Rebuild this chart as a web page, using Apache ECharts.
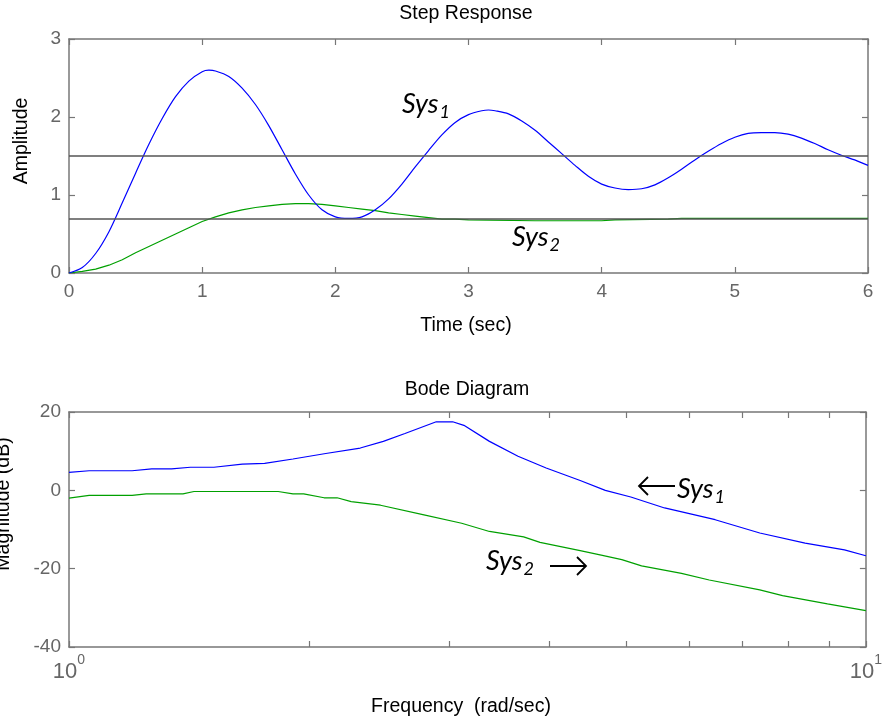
<!DOCTYPE html>
<html>
<head>
<meta charset="utf-8">
<script src="https://cdn.jsdelivr.net/npm/echarts@6/dist/echarts.min.js"></script>
<style>
html,body{margin:0;padding:0;background:#fff;}
#chart{width:885px;height:727px;}
</style>
</head>
<body>
<div id="chart"></div>
<script>
// ---- Step response data ----
const sys1Time = [0,0.1,0.2,0.3,0.4,0.5,0.6,0.7,0.8,0.9,1.0,1.05,1.1,1.2,1.3,1.4,1.5,1.6,1.7,1.8,1.9,2.0,2.1,2.2,2.3,2.4,2.5,2.6,2.7,2.8,2.9,3.0,3.1,3.15,3.2,3.3,3.4,3.5,3.6,3.7,3.8,3.9,4.0,4.1,4.2,4.3,4.4,4.5,4.6,4.7,4.8,4.9,5.0,5.1,5.2,5.3,5.4,5.5,5.6,5.7,5.8,5.9,6.0];
const sys1Amp  = [0,0.07,0.25,0.53,0.9,1.28,1.65,1.98,2.26,2.46,2.58,2.6,2.59,2.52,2.37,2.16,1.89,1.58,1.27,1.0,0.81,0.72,0.7,0.72,0.81,0.95,1.14,1.36,1.57,1.77,1.93,2.03,2.08,2.09,2.08,2.04,1.95,1.83,1.68,1.53,1.38,1.24,1.14,1.09,1.07,1.08,1.13,1.22,1.33,1.45,1.56,1.66,1.74,1.79,1.8,1.8,1.78,1.73,1.66,1.58,1.51,1.45,1.38];
const sys2Time = [0,0.1,0.2,0.3,0.4,0.5,0.6,0.7,0.8,0.9,1.0,1.1,1.2,1.3,1.4,1.5,1.6,1.7,1.8,1.9,2.0,2.1,2.2,2.3,2.4,2.5,2.6,2.7,2.8,2.9,3.0,3.5,4.0,4.1,4.5,4.6,5.0,6.0];
const sys2Amp  = [0,0.02,0.05,0.1,0.17,0.26,0.34,0.42,0.5,0.58,0.66,0.72,0.77,0.81,0.84,0.86,0.88,0.89,0.89,0.88,0.86,0.84,0.82,0.8,0.77,0.75,0.73,0.71,0.69,0.69,0.68,0.67,0.67,0.68,0.69,0.7,0.7,0.7];
const refLevels = [1.5, 0.69];

// ---- Bode magnitude data ----
const sys1Freq = [1.0,1.06,1.2,1.27,1.345,1.42,1.52,1.65,1.76,1.91,2.1,2.32,2.48,2.64,2.89,3.03,3.13,3.37,3.66,3.97,4.38,4.71,5.07,5.59,6.47,7.36,8.39,9.4,10];
const sys1Mag  = [4.6,5.0,5.0,5.5,5.5,5.9,5.9,6.7,6.9,8.0,9.4,10.8,12.5,14.5,17.5,17.5,16.6,12.5,8.7,5.7,2.5,0,-1.7,-4.5,-7.5,-10.9,-13.5,-15.2,-16.7];
const sys2Freq = [1,1.06,1.2,1.25,1.39,1.435,1.83,1.91,1.97,2.09,2.17,2.26,2.46,2.78,3.11,3.37,3.72,3.9,4.38,4.67,4.94,5.23,5.87,6.36,7.36,7.86,8.95,10];
const sys2Mag  = [-2.0,-1.3,-1.3,-0.9,-0.9,-0.3,-0.3,-0.9,-0.9,-1.9,-1.9,-2.9,-3.8,-6.2,-8.4,-10.5,-11.9,-13.3,-15.4,-16.6,-17.7,-19.3,-21.2,-22.9,-25.4,-26.9,-29.0,-30.7];
const freqTicks = [1,2,3,4,5,6,7,8,9,10];
const freqLabels = [1,10];

const zip = (a,b) => a.map((v,i)=>[v,b[i]]);

const FONT = 'Liberation Sans';
const axisGray = '#777';
const labelGray = '#666';
const lineStyle = {color: axisGray, width: 1.5};
const tick = {show:true, inside:true, length:6, lineStyle:{color: axisGray, width:1.2}};

function valueX(gi, pos, min, max, interval, showLabel){
  return {type:'value', gridIndex:gi, position:pos, min, max, interval,
    axisLine:{show:true, onZero:false, lineStyle},
    axisTick:tick, splitLine:{show:false},
    axisLabel:{show:showLabel, margin:9, fontFamily:FONT, fontSize:19, color:labelGray}};
}
function valueY(gi, pos, min, max, interval, showLabel){
  return {type:'value', gridIndex:gi, position:pos, min, max, interval,
    axisLine:{show:true, onZero:false, lineStyle},
    axisTick:tick, splitLine:{show:false},
    axisLabel:{show:showLabel, margin:8, fontFamily:FONT, fontSize:19, color:labelGray}};
}
function logX(gi, pos, showLabel){
  return {type:'log', logBase:10, gridIndex:gi, position:pos, min:1, max:10,
    axisLine:{show:true, onZero:false, lineStyle},
    axisTick:Object.assign({}, tick, {customValues: freqTicks}),
    splitLine:{show:false},
    axisLabel:{show:showLabel, margin:6, customValues: freqLabels,
      formatter: v => '{b|10}{s|' + Math.round(Math.log10(v)) + '}',
      rich:{
        b:{fontFamily:FONT, fontSize:22, color:labelGray, lineHeight:24, padding:[14,0,0,0]},
        s:{fontFamily:FONT, fontSize:14, color:labelGray, lineHeight:14, verticalAlign:'top'}
      }}};
}

const sysRich = {
  a:{fontFamily:'Lato', fontStyle:'italic', fontSize:27, lineHeight:30, color:'#000', verticalAlign:'top'},
  b:{fontFamily:'Lato', fontStyle:'italic', fontSize:18, lineHeight:18, color:'#000', verticalAlign:'top', padding:[12,0,0,1]}
};
function sysText(x, y, n){
  return {type:'text', left:x, top:y, style:{text:'{a|Sys}{b|'+n+'}', rich:sysRich}};
}
function plainText(x, y, t, rot){
  return {type:'text', x, y, rotation: rot||0,
    style:{text:t, fontFamily:FONT, fontSize:19.5, fill:'#000', align:'center', verticalAlign:'middle'}};
}

const chart = echarts.init(document.getElementById('chart'), null, {renderer:'canvas'});
chart.setOption({
  animation:false,
  backgroundColor:'#fff',
  grid:[
    {left:69, right:17, top:39, height:234},
    {left:69, right:17, top:412, height:235}
  ],
  xAxis:[
    valueX(0,'bottom',0,6,1,true),
    valueX(0,'top',0,6,1,false),
    logX(1,'bottom',true),
    logX(1,'top',false)
  ],
  yAxis:[
    valueY(0,'left',0,3,1,true),
    valueY(0,'right',0,3,1,false),
    valueY(1,'left',-40,20,20,true),
    valueY(1,'right',-40,20,20,false)
  ],
  series:[
    {type:'line', xAxisIndex:0, yAxisIndex:0, data:zip(sys2Time, sys2Amp), showSymbol:false,
      lineStyle:{color:'#00a000', width:1.2}, z:3},
    {type:'line', xAxisIndex:0, yAxisIndex:0, data:zip(sys1Time, sys1Amp), showSymbol:false, smooth:0.3,
      lineStyle:{color:'#0000ff', width:1.2}, z:4,
      markLine:{silent:true, symbol:['none','none'], label:{show:false},
        lineStyle:{color:'#555', width:1.5, type:'solid'},
        data: refLevels.map(v=>({yAxis:v}))}},
    {type:'line', xAxisIndex:2, yAxisIndex:2, data:zip(sys1Freq, sys1Mag), showSymbol:false,
      lineStyle:{color:'#0000ff', width:1.2}},
    {type:'line', xAxisIndex:2, yAxisIndex:2, data:zip(sys2Freq, sys2Mag), showSymbol:false,
      lineStyle:{color:'#00a000', width:1.2}}
  ],
  graphic:[
    plainText(466, 14, 'Step Response'),
    plainText(466, 326, 'Time (sec)'),
    plainText(22, 141, 'Amplitude', Math.PI/2),
    plainText(467, 390, 'Bode Diagram'),
    plainText(461, 707, 'Frequency  (rad/sec)'),
    plainText(4, 504, 'Magnitude (dB)', Math.PI/2),
    sysText(402, 91, 1),
    sysText(512, 224, 2),
    sysText(677, 476, 1),
    sysText(486, 548, 2),
    {type:'line', shape:{x1:640, y1:486, x2:675, y2:486}, style:{stroke:'#000', lineWidth:1.8}},
    {type:'polyline', shape:{points:[[648,477],[639,486],[648,495]]}, style:{stroke:'#000', lineWidth:1.8, fill:null}},
    {type:'line', shape:{x1:550, y1:566, x2:586, y2:566}, style:{stroke:'#000', lineWidth:1.8}},
    {type:'polyline', shape:{points:[[577,557],[586,566],[577,575]]}, style:{stroke:'#000', lineWidth:1.8, fill:null}}
  ]
});
</script>
</body>
</html>
